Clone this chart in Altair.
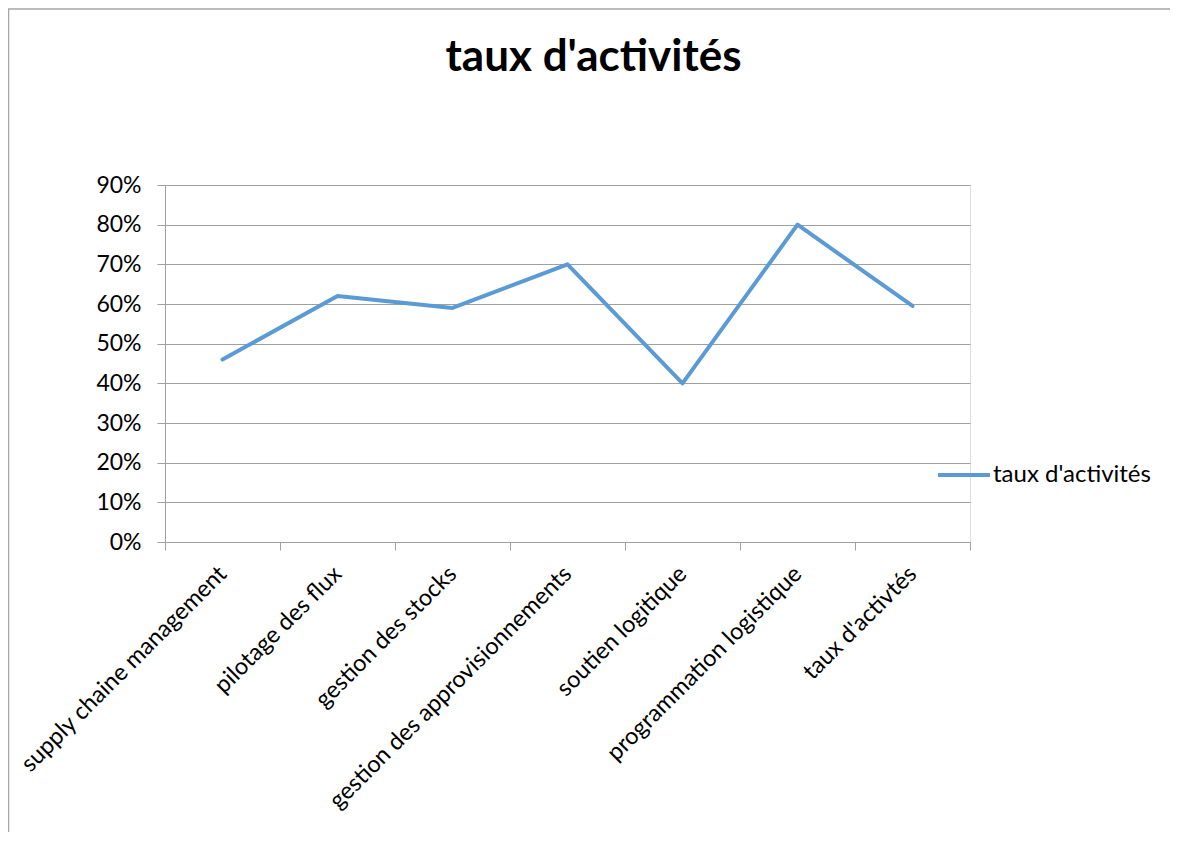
import altair as alt
import pandas as pd

categories = [
    "supply chaine management",
    "pilotage des flux",
    "gestion des stocks",
    "gestion des approvisionnements",
    "soutien logitique",
    "programmation logistique",
    "taux d'activtés",
]
values = [0.46, 0.62, 0.59, 0.70, 0.40, 0.80, 0.595]
series_name = "taux d'activités"
chart_title = "taux d'activités"
y_ticks = [0.0, 0.1, 0.2, 0.3, 0.4, 0.5, 0.6, 0.7, 0.8, 0.9]

FONT = "Lato"
GRID = "#a0a0a0"
BLUE = "#5b9bd5"

df = pd.DataFrame({"cat": categories, "val": values, "serie": [series_name] * len(categories)})

line = alt.Chart(df).mark_line(strokeWidth=4, strokeJoin="round", strokeCap="round").encode(
    x=alt.X(
        "cat:N",
        sort=categories,
        bandPosition=0.5,
        scale=alt.Scale(type="band", paddingInner=0, paddingOuter=0),
        axis=alt.Axis(
            title=None,
            labelAngle=-45,
            labelAlign="right",
            labelBaseline="middle",
            labelPadding=20,
            labelFont=FONT,
            labelFontSize=23.5,
            labelColor="#000000",
            tickBand="extent",
            tickSize=8,
            tickColor=GRID,
            domainColor=GRID,
            grid=False,
            labelLimit=0,
        ),
    ),
    y=alt.Y(
        "val:Q",
        scale=alt.Scale(domain=[0, 0.9], nice=False),
        axis=alt.Axis(
            title=None,
            values=y_ticks,
            format=".0%",
            labelFont=FONT,
            labelFontSize=23,
            labelColor="#000000",
            labelPadding=16,
            tickSize=8,
            tickColor=GRID,
            domainColor=GRID,
            gridColor=GRID,
            grid=True,
        ),
    ),
    color=alt.Color(
        "serie:N",
        scale=alt.Scale(range=[BLUE]),
        legend=alt.Legend(
            title=None,
            orient="none",
            legendX=771,
            legendY=262,
            symbolType="stroke",
            symbolSize=2704,
            symbolStrokeWidth=4,
            labelFont=FONT,
            labelFontSize=24,
            labelColor="#000000",
            labelOffset=1,
            labelLimit=0,
            padding=0,
        ),
    ),
)

one = pd.DataFrame({"t": [chart_title]})
title = alt.Chart(one).mark_text(
    font=FONT, fontSize=44, fontWeight="bold", align="center", baseline="alphabetic", color="#000000"
).encode(text="t:N", x=alt.value(428.5), y=alt.value(-114))

border_left = alt.Chart(one).mark_rule(color="#a6a6a6", strokeWidth=1.5).encode(
    x=alt.value(-156.5), y=alt.value(-176), y2=alt.value(700)
)
border_top = alt.Chart(one).mark_rule(color="#a6a6a6", strokeWidth=1.5).encode(
    x=alt.value(-157), x2=alt.value(1100), y=alt.value(-176)
)

chart = alt.layer(border_left, border_top, title, line).properties(
    width=805,
    height=357,
    autosize=alt.AutoSizeParams(type="none"),
    padding={"left": 157, "top": 177, "right": 200, "bottom": 290},
).configure_view(stroke=None).configure(background="white")

chart.save("out.html", embed_options={"renderer": "svg", "actions": False})
